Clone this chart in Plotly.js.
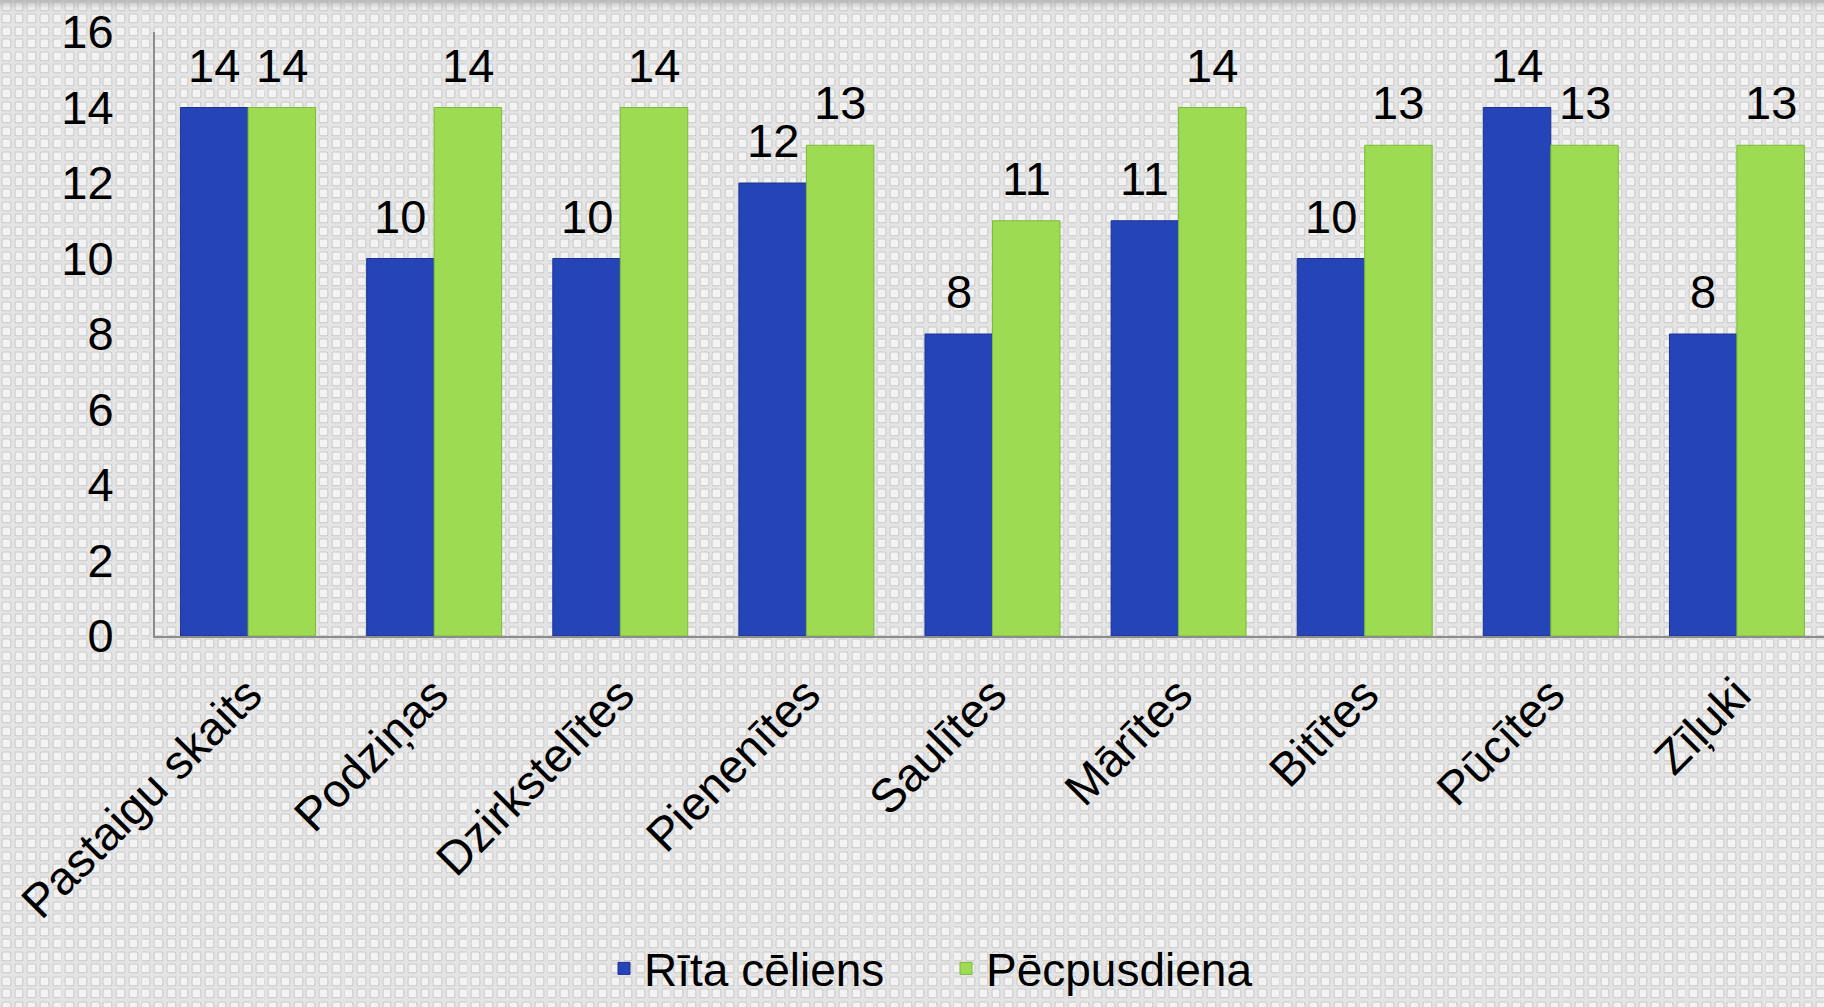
<!DOCTYPE html>
<html>
<head>
<meta charset="utf-8">
<script src="https://cdn.plot.ly/plotly-3.0.1.min.js"></script>
<style>
html, body { margin:0; padding:0; width:1824px; height:1007px; overflow:hidden; }
body {
  background-color:#e9e9e9;
  background-image:
    linear-gradient(to bottom, rgba(150,150,150,0.55) 0px, rgba(200,200,200,0.2) 8px, rgba(255,255,255,0) 14px),
    url("data:image/svg+xml;utf8,<svg xmlns='http://www.w3.org/2000/svg' width='12.7' height='12.5'><rect x='0' y='0' width='12.7' height='12.5' fill='%23e4e4e4'/><rect x='2' y='2' width='8.6' height='8.4' rx='1.6' fill='%23f3f3f3' stroke='%23cacaca' stroke-width='1'/></svg>");
  background-repeat: no-repeat, repeat;
}
#chart { width:1824px; height:1007px; }
</style>
</head>
<body>
<div id="chart"></div>
<script>
const categories = ["Pastaigu skaits", "Podziņas", "Dzirkstelītes", "Pienenītes", "Saulītes", "Mārītes", "Bitītes", "Pūcītes", "Zīļuki"];
const ritaCeliens = [14, 10, 10, 12, 8, 11, 10, 14, 8];
const pecpusdiena = [14, 14, 14, 13, 11, 14, 13, 13, 13];
const seriesNames = ["Rīta cēliens", "Pēcpusdiena"];
const yTicks = [0, 2, 4, 6, 8, 10, 12, 14, 16];

const font = "Liberation Sans, Arial, sans-serif";
const W = 1824, H = 1007;
const margin = {l: 155, r: 0, t: 32, b: 371};
const xRange = [-0.5, 8.468];
const bargap = 0.275;

const traces = [
  {
    type: "bar", name: seriesNames[0], x: categories, y: ritaCeliens,
    marker: {color: "#2444b8", line: {color: "#1a3290", width: 1}}
  },
  {
    type: "bar", name: seriesNames[1], x: categories, y: pecpusdiena,
    marker: {color: "#9cdb52", line: {color: "#7dba3a", width: 1}}
  }
];

// data labels placed above bars, through the axis scales
const catPx = (W - margin.l - margin.r) / (xRange[1] - xRange[0]);
const barPx = catPx * (1 - bargap) / 2;
const annotations = [];
[ritaCeliens, pecpusdiena].forEach((vals, si) => {
  vals.forEach((v, i) => {
    annotations.push({
      x: categories[i], y: v, xref: "x", yref: "y",
      text: String(v), showarrow: false,
      xanchor: "center", yanchor: "bottom",
      xshift: (si === 0 ? -1 : 1) * barPx / 2,
      yshift: 14,
      font: {family: font, size: 47, color: "#000"}
    });
  });
});

const layout = {
  width: W, height: H,
  margin: margin,
  paper_bgcolor: "rgba(0,0,0,0)",
  plot_bgcolor: "rgba(0,0,0,0)",
  barmode: "group",
  bargap: bargap,
  bargroupgap: 0,
  font: {family: font, color: "#000"},
  xaxis: {
    type: "category",
    range: xRange,
    tickangle: -45,
    tickfont: {family: font, size: 47, color: "#000"},
    showline: true, linecolor: "#8c8c8c", linewidth: 2,
    ticks: "", showgrid: false, zeroline: false,
    ticklabelstandoff: 10
  },
  yaxis: {
    range: [0, 16],
    tickvals: yTicks,
    ticktext: yTicks.map(String),
    tickfont: {family: font, size: 47, color: "#000"},
    showline: true, linecolor: "#8c8c8c", linewidth: 2,
    ticks: "", showgrid: false, zeroline: false,
    ticklabelstandoff: 30
  },
  annotations: annotations,
  showlegend: true,
  legend: {
    orientation: "h",
    xref: "container", yref: "container",
    x: 604/1824, xanchor: "left",
    y: 2/1007, yanchor: "bottom",
    entrywidth: 297, entrywidthmode: "pixels",
    font: {family: font, size: 46, color: "#000"},
    bgcolor: "rgba(0,0,0,0)",
    traceorder: "normal"
  }
};

Plotly.newPlot("chart", traces, layout, {displayModeBar: false, staticPlot: true});
</script>
</body>
</html>
